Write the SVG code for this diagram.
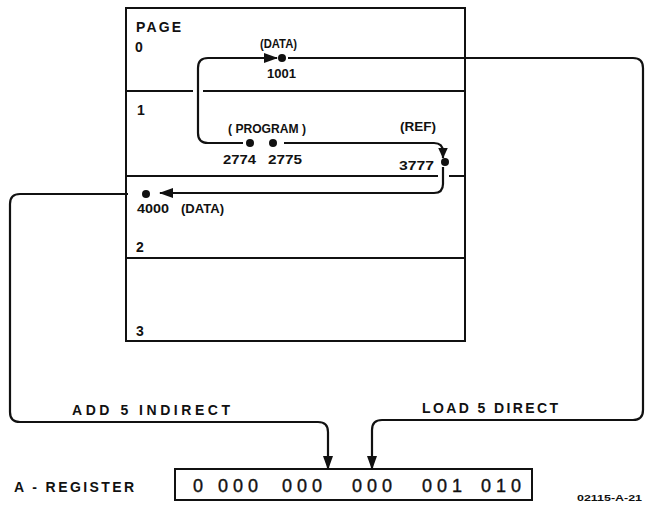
<svg xmlns="http://www.w3.org/2000/svg" width="645" height="505" viewBox="0 0 645 505">
<style>
  .ln { fill: none; stroke: #111; stroke-width: 2; }
  .cn { fill: none; stroke: #111; stroke-width: 2.2; }
  .dot { fill: #111; }
  text { font-family: "Liberation Sans", Arial, sans-serif; font-weight: bold; fill: #111; }
  .lbl { font-size: 12.5px; }
  .big { font-size: 14px; }
  .reg { font-size: 18px; font-weight: normal; stroke: #111; stroke-width: 0.4; }
</style>
<defs>
  <marker id="ah" viewBox="0 0 14 10" refX="13" refY="5" markerWidth="14" markerHeight="10" markerUnits="userSpaceOnUse" orient="auto">
    <path d="M0,0 L14,5 L0,10 Z" fill="#111"/>
  </marker>
  <marker id="ahs" viewBox="0 0 11 10" refX="10.5" refY="5" markerWidth="11" markerHeight="10" markerUnits="userSpaceOnUse" orient="auto">
    <path d="M0,0 L11,5 L0,10 Z" fill="#111"/>
  </marker>
</defs>

<g id="memory">
  <rect class="ln" x="126" y="8" width="339" height="333"/>
  <path class="ln" d="M126 91 H193 M203 91 H465"/>
  <path class="ln" d="M126 176 H438 M449 176 H465"/>
  <path class="ln" d="M126 258 H465"/>
  <text class="big" x="136" y="32" textLength="45" lengthAdjust="spacing">PAGE</text>
  <text class="big" x="135" y="52">0</text>
  <text class="big" x="137" y="115">1</text>
  <text class="big" x="136" y="252">2</text>
  <text class="big" x="136" y="336">3</text>
</g>

<g id="n1001">
  <circle class="dot" cx="282" cy="58" r="4"/>
  <text class="lbl" x="260" y="48" textLength="37" lengthAdjust="spacingAndGlyphs">(DATA)</text>
  <text class="lbl" x="267" y="78" textLength="29" lengthAdjust="spacingAndGlyphs">1001</text>
</g>
<g id="n2774">
  <circle class="dot" cx="250" cy="143" r="4"/>
  <text class="lbl" x="223" y="164" textLength="33" lengthAdjust="spacingAndGlyphs">2774</text>
</g>
<g id="n2775">
  <circle class="dot" cx="273" cy="143" r="4"/>
  <text class="lbl" x="268" y="164" textLength="34" lengthAdjust="spacingAndGlyphs">2775</text>
</g>
<text id="program" class="lbl" x="228" y="133" textLength="78" lengthAdjust="spacingAndGlyphs">( PROGRAM )</text>
<g id="n3777">
  <circle class="dot" cx="445" cy="162" r="4"/>
  <text class="lbl" x="400" y="131" textLength="36" lengthAdjust="spacingAndGlyphs">(REF)</text>
  <text class="lbl" x="399" y="170" textLength="35" lengthAdjust="spacingAndGlyphs">3777</text>
</g>
<g id="n4000">
  <circle class="dot" cx="146" cy="194" r="4"/>
  <text class="lbl" x="137" y="213" textLength="32" lengthAdjust="spacingAndGlyphs">4000</text>
  <text class="lbl" x="181" y="213" textLength="43" lengthAdjust="spacingAndGlyphs">(DATA)</text>
</g>

<g id="aregister">
  <text class="big" x="14" y="492" textLength="120" lengthAdjust="spacing">A - REGISTER</text>
  <rect class="ln" x="175" y="469" width="357" height="31"/>
  <text class="reg" y="492" letter-spacing="5"><tspan x="193">0</tspan><tspan x="218">000</tspan><tspan x="282">000</tspan><tspan x="352">000</tspan><tspan x="422">001</tspan><tspan x="481">010</tspan></text>
</g>

<g id="connectors">
  <path class="cn" d="M243 143 H208 Q198 143 198 133 V68 Q198 58 208 58 H277" marker-end="url(#ah)"/>
  <path class="cn" d="M288 58 H633 Q643 58 643 68 V410 Q643 420 633 420 H382 Q372 420 372 430 V469" marker-end="url(#ah)"/>
  <path class="cn" d="M284 143 H434 Q443 143 443 152 V158" marker-end="url(#ahs)"/>
  <path class="cn" d="M443 167 V184 Q443 193 434 193 H160" marker-end="url(#ah)"/>
  <path class="cn" d="M128 194 H20 Q10 194 10 204 V412 Q10 422 20 422 H318 Q328 422 328 432 V469" marker-end="url(#ah)"/>
  <text class="big" x="72" y="415" textLength="158" lengthAdjust="spacing">ADD 5 INDIRECT</text>
  <text class="big" x="422" y="413" textLength="136" lengthAdjust="spacing">LOAD 5 DIRECT</text>
</g>

<text x="577" y="501" style="font-size:9px" textLength="65" lengthAdjust="spacingAndGlyphs">02115-A-21</text>
</svg>
